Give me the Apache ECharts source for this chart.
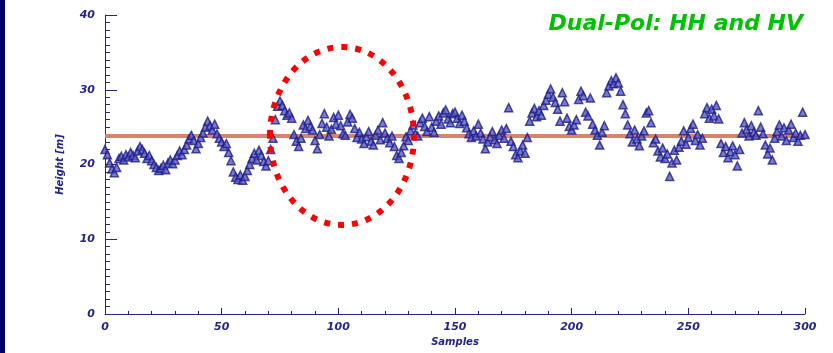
<!DOCTYPE html>
<html>
<head>
<meta charset="utf-8">
<script src="https://cdn.jsdelivr.net/npm/echarts@6/dist/echarts.min.js"></script>
<style>
html,body{margin:0;padding:0;background:#fff;}
#chart{width:833px;height:353px;}
</style>
</head>
<body>
<div id="chart"></div>
<script>
// Heights [m] per sample (index = sample number 0..300)
const heights = [
  22.0, 21.3, 20.2, 19.4, 18.9, 19.6, 20.8, 21.1, 20.6, 21.3,
  21.0, 21.6, 21.2, 20.9, 21.8, 22.4, 22.0, 21.5, 20.8, 21.2,
  20.5, 20.0, 19.6, 19.2, 19.5, 19.9, 19.3, 20.2, 20.6, 20.1,
  20.6, 21.2, 21.8, 21.3, 22.0, 22.6, 23.4, 23.9, 23.2, 22.1,
  22.8, 23.6, 24.2, 25.0, 25.8, 25.2, 24.6, 25.4, 24.1, 23.5,
  23.0, 22.4, 22.8, 21.6, 20.5, 19.0, 18.3, 18.0, 18.6, 17.9,
  18.4, 19.2, 20.0, 20.8, 21.5, 20.6, 21.9, 21.2, 20.4, 19.8,
  20.5, 22.0, 23.5, 26.0, 27.8, 28.5, 27.9, 27.2, 26.6, 26.9,
  26.2, 24.0, 23.1, 22.4, 23.5, 25.3, 24.8, 25.9, 25.1, 24.6,
  23.2, 22.1, 24.0, 25.5, 26.8, 25.0, 23.8, 24.7, 26.3, 25.4,
  26.6, 25.2, 24.1, 23.9, 25.7, 26.7, 26.2, 24.8, 23.6, 24.3,
  23.4, 22.8, 23.7, 24.4, 23.1, 22.6, 23.9, 24.6, 23.3, 25.6,
  24.2, 23.5, 22.9, 23.8, 22.4, 21.2, 20.8, 21.6, 22.5, 23.7,
  23.2, 24.5, 25.3, 24.1, 23.8, 25.6, 26.2, 25.1, 24.4, 26.4,
  25.0, 24.3, 25.8, 26.5, 25.4, 26.9, 27.3, 26.1, 25.6, 26.8,
  27.0, 26.2, 25.5, 26.6, 25.8, 24.9, 24.1, 23.6, 24.5, 23.8,
  25.4, 24.2, 23.4, 22.1, 23.0, 23.7, 24.4, 23.3, 22.8, 23.9,
  24.6, 23.5, 24.8, 27.6, 23.1, 22.4, 21.3, 20.9, 21.8, 22.6,
  21.5, 23.6, 25.8, 26.9, 27.5, 26.4, 27.2, 26.6, 27.9, 28.6,
  29.4, 30.1, 29.0, 28.3, 27.4, 25.8, 29.6, 28.4, 26.2, 25.1,
  24.6, 25.3, 26.0, 28.7, 29.8, 29.2, 27.0, 26.5, 28.9, 25.4,
  24.6, 23.9, 22.6, 24.3, 25.2, 29.6, 30.5, 31.2, 30.8, 31.6,
  30.9, 29.8, 28.0, 26.8, 25.3, 24.1, 23.0, 24.6, 23.4, 22.5,
  23.8, 24.5, 26.9, 27.2, 25.6, 22.9, 23.4, 21.8, 21.0, 22.2,
  20.8, 21.4, 18.4, 20.2, 21.9, 20.6, 22.3, 23.1, 24.5, 22.7,
  23.6, 24.8, 25.4, 23.2, 24.0, 22.6, 23.5, 26.8, 27.6, 26.2,
  27.4, 26.5, 27.9, 26.1, 22.8, 21.6, 22.4, 20.9, 21.7, 22.5,
  21.3, 19.8, 22.0, 24.2, 25.6, 24.7, 23.8, 25.2, 24.3, 23.9,
  27.2, 25.0, 24.1, 22.6, 21.4, 22.2, 20.6, 23.5, 24.4, 25.3,
  23.8, 24.9, 23.2, 24.6, 25.4, 23.6, 24.2, 23.1, 23.9, 27.0,
  24.0
];
const meanHeight = 23.8;
const meanLineX = [0, 300];
const xTicks = [0, 50, 100, 150, 200, 250, 300];
const yTicks = [0, 10, 20, 30, 40];
const titleText = 'Dual-Pol: HH and HV';
const xName = 'Samples';
const yName = 'Height [m]';

const chart = echarts.init(document.getElementById('chart'), null, {renderer: 'canvas'});
const navy = '#23238a';
const labelFont = {color: navy, fontFamily: 'DejaVu Sans', fontStyle: 'italic', fontWeight: 'bold', fontSize: 11};

const scatterData = heights.map((v, i) => [i, v]);
const lineData = meanLineX.map(x => [x, meanHeight]);

chart.setOption({
  backgroundColor: '#ffffff',
  animation: false,
  grid: {left: 105, right: 28, top: 15, bottom: 39, containLabel: false},
  xAxis: {
    type: 'value', min: xTicks[0], max: xTicks[xTicks.length - 1], interval: 50,
    name: xName, nameLocation: 'middle', nameGap: 22,
    nameTextStyle: Object.assign({}, labelFont, {fontSize: 10}),
    axisLine: {lineStyle: {color: navy, width: 1}},
    axisTick: {inside: true, length: 6, lineStyle: {color: navy}},
    minorTick: {show: true, splitNumber: 5, length: 3, lineStyle: {color: navy}},
    axisLabel: Object.assign({}, labelFont, {margin: 8}),
    splitLine: {show: false}
  },
  yAxis: {
    type: 'value', min: yTicks[0], max: yTicks[yTicks.length - 1], interval: 10,
    name: yName, nameLocation: 'middle', nameGap: 40, nameRotate: 90,
    nameTextStyle: Object.assign({}, labelFont, {fontSize: 10}),
    axisLine: {show: true, lineStyle: {color: navy, width: 1}},
    axisTick: {show: true, inside: true, length: 12, lineStyle: {color: navy}},
    minorTick: {show: true, splitNumber: 10, length: 5, lineStyle: {color: navy}},
    axisLabel: Object.assign({}, labelFont, {margin: 10}),
    splitLine: {show: false}
  },
  series: [
    {
      type: 'line', data: lineData, symbol: 'none', z: 1,
      lineStyle: {color: '#d6846a', width: 4}
    },
    {
      type: 'scatter', data: scatterData, symbol: 'triangle', symbolSize: 8, z: 3,
      itemStyle: {color: '#5a5ac0', borderColor: '#1e1e8c', borderWidth: 1.5}
    }
  ],
  graphic: [
    {type: 'rect', left: 0, top: 0, shape: {width: 5, height: 353}, style: {fill: '#000066'}, z: 10},
    {type: 'ellipse', shape: {cx: 342, cy: 136, rx: 72, ry: 89},
     style: {fill: 'none', stroke: '#ff0000', lineWidth: 6, lineDash: [6, 8]}, z: 10},
    {type: 'text', right: 30, top: 13,
     style: {text: titleText, fill: '#00c000', font: 'italic bold 22px "DejaVu Sans"'}, z: 10}
  ]
});
</script>
</body>
</html>
